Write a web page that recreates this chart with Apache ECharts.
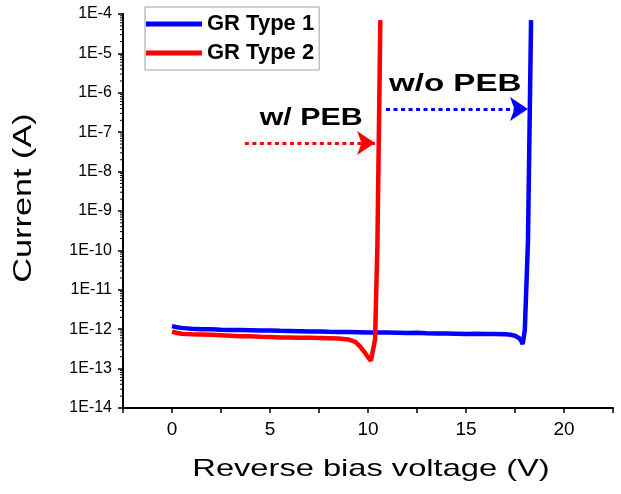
<!DOCTYPE html>
<html>
<head>
<meta charset="utf-8">
<script src="https://cdn.jsdelivr.net/npm/echarts@6/dist/echarts.min.js"></script>
<style>
html,body{margin:0;padding:0;background:#fff;}
#chart{width:621px;height:494px;}
</style>
</head>
<body>
<div id="chart"></div>
<script>
// ---- data ----
const seriesNames = ['GR Type 1', 'GR Type 2'];

const voltage1 = [0, 0.25, 0.5, 0.75, 1, 1.5, 2, 2.5, 3, 3.5, 4, 4.5, 5, 5.5, 6, 6.5, 7, 7.5, 8, 8.5, 9, 9.5, 10, 10.5, 11, 11.5, 12, 12.5, 13, 13.5, 14, 14.5, 15, 15.5, 16, 16.5, 17, 17.3, 17.5, 17.7, 17.8, 17.89, 18.0, 18.16, 18.32];
const current1 = [1.20e-12, 1.12e-12, 1.08e-12, 1.05e-12, 1.02e-12, 1.00e-12, 0.99e-12, 0.97e-12, 0.96e-12, 0.95e-12, 0.94e-12, 0.93e-12, 0.93e-12, 0.91e-12, 0.90e-12, 0.89e-12, 0.88e-12, 0.88e-12, 0.86e-12, 0.85e-12, 0.85e-12, 0.84e-12, 0.83e-12, 0.83e-12, 0.82e-12, 0.81e-12, 0.80e-12, 0.81e-12, 0.79e-12, 0.78e-12, 0.78e-12, 0.77e-12, 0.76e-12, 0.77e-12, 0.76e-12, 0.75e-12, 0.74e-12, 0.72e-12, 0.68e-12, 0.60e-12, 0.52e-12, 0.42e-12, 0.95e-12, 1.6e-10, 7e-5];

const voltage2 = [0, 0.25, 0.5, 0.75, 1, 1.5, 2, 2.5, 3, 3.5, 4, 4.5, 5, 5.5, 6, 6.5, 7, 7.5, 8, 8.5, 9, 9.35, 9.6, 9.85, 10.05, 10.15, 10.36, 10.48, 10.63];
const current2 = [0.87e-12, 0.80e-12, 0.77e-12, 0.75e-12, 0.74e-12, 0.73e-12, 0.72e-12, 0.70e-12, 0.68e-12, 0.66e-12, 0.66e-12, 0.64e-12, 0.63e-12, 0.62e-12, 0.62e-12, 0.61e-12, 0.61e-12, 0.60e-12, 0.59e-12, 0.58e-12, 0.55e-12, 0.48e-12, 0.36e-12, 0.25e-12, 0.18e-12, 0.16e-12, 0.54e-12, 1.4e-10, 7e-5];

// annotation texts and anchor points (data coordinates)
const noteTexts = ['w/ PEB', 'w/o PEB'];
const noteX = [7.1, 14.45];
const noteY = [2.2e-7, 1.6e-6];
// arrows: [startV, endV, current]
const arrowRed = [3.72, 10.36, 5.3e-8];
const arrowBlue = [10.92, 18.16, 3.9e-7];

const xMin = -2.5, xMax = 22.5, xInterval = 2.5;
const yMin = 1e-14, yMax = 1e-4;

// minor log ticks
const minorTickValues = [];
for (let e = -14; e < -4; e++) {
  for (let k = 2; k <= 9; k++) minorTickValues.push(k * Math.pow(10, e));
}

const zip = (a, b) => a.map((v, i) => [v, b[i]]);
const FONT = 'Liberation Sans, Arial, sans-serif';
const noteScale = [1.32, 1.44];

const chart = echarts.init(document.getElementById('chart'), null, {renderer: 'canvas'});
chart.setOption({
  animation: false,
  backgroundColor: '#fff',
  grid: {left: 123, right: 8, top: 14, bottom: 86, containLabel: false},
  legend: {
    data: seriesNames,
    orient: 'vertical',
    left: 145, top: 7,
    itemWidth: 56, itemHeight: 5,
    itemGap: 7,
    icon: 'rect',
    padding: [6, 5, 6, 1],
    borderColor: '#a0a0a0', borderWidth: 1,
    textStyle: {fontFamily: FONT, fontWeight: 'bold', fontSize: 22, color: '#000'}
  },
  xAxis: {
    type: 'value', min: xMin, max: xMax, interval: xInterval,
    axisLine: {onZero: false, lineStyle: {color: '#000', width: 2}},
    axisTick: {length: 5, lineStyle: {color: '#000', width: 1.5}},
    axisLabel: {
      fontFamily: FONT, fontSize: 19, color: '#000', margin: 12,
      formatter: v => (Math.abs(v % 5) < 1e-9 ? String(v) : '')
    },
    splitLine: {show: false}
  },
  yAxis: {
    type: 'log', logBase: 10, min: yMin, max: yMax, interval: 1,
    axisLine: {show: true, onZero: false, lineStyle: {color: '#000', width: 2}},
    axisTick: {show: true, length: 5, lineStyle: {color: '#000', width: 1.5}},
    axisLabel: {
      fontFamily: FONT, fontSize: 16, color: '#000', margin: 11,
      formatter: v => '1E' + Math.round(Math.log10(v))
    },
    splitLine: {show: false}
  },
  graphic: [
    {type: 'text', x: 371, y: 469, scaleX: 1.36,
     style: {text: 'Reverse bias voltage (V)', fontFamily: FONT, fontSize: 24, fill: '#000', align: 'center', verticalAlign: 'middle'}},
    {type: 'text', x: 24, y: 198, rotation: Math.PI / 2, scaleX: 1.37,
     style: {text: 'Current (A)', fontFamily: FONT, fontSize: 25, fill: '#000', align: 'center', verticalAlign: 'middle'}}
  ],
  series: [
    {
      name: seriesNames[0], type: 'line', data: zip(voltage1, current1),
      showSymbol: false, symbol: 'none', color: '#0000ff',
      lineStyle: {width: 4.5, color: '#0000ff'},
      markLine: {
        silent: true, symbol: ['none', 'arrow'], symbolSize: 18,
        lineStyle: {color: '#0000ff', width: 3, type: [4, 3.5]},
        label: {show: false},
        data: [[{coord: [arrowBlue[0], arrowBlue[2]]}, {coord: [arrowBlue[1], arrowBlue[2]]}]]
      }
    },
    {
      name: seriesNames[1], type: 'line', data: zip(voltage2, current2),
      showSymbol: false, symbol: 'none', color: '#ff0000',
      lineStyle: {width: 4.5, color: '#ff0000'},
      markLine: {
        silent: true, symbol: ['none', 'arrow'], symbolSize: 18,
        lineStyle: {color: '#ff0000', width: 3, type: [4, 3.5]},
        label: {show: false},
        data: [[{coord: [arrowRed[0], arrowRed[2]]}, {coord: [arrowRed[1], arrowRed[2]]}]]
      }
    },
    {
      name: 'minorTicks', type: 'custom', silent: true, clip: false,
      data: minorTickValues.map(v => [xMin, v]),
      renderItem: (params, api) => {
        const p = api.coord([api.value(0), api.value(1)]);
        return {type: 'line', shape: {x1: p[0] - 3, y1: p[1], x2: p[0], y2: p[1]},
                style: {stroke: '#000', lineWidth: 1}};
      }
    },
    {
      name: 'notes', type: 'custom', silent: true, clip: false,
      data: noteX.map((x, i) => [x, noteY[i]]),
      renderItem: (params, api) => {
        const p = api.coord([api.value(0), api.value(1)]);
        return {type: 'text', x: p[0], y: p[1], scaleX: noteScale[params.dataIndex],
                style: {text: noteTexts[params.dataIndex], fontFamily: FONT, fontWeight: 'bold',
                        fontSize: 23, fill: '#000', align: 'center', verticalAlign: 'middle'}};
      }
    }
  ]
});
</script>
</body>
</html>
